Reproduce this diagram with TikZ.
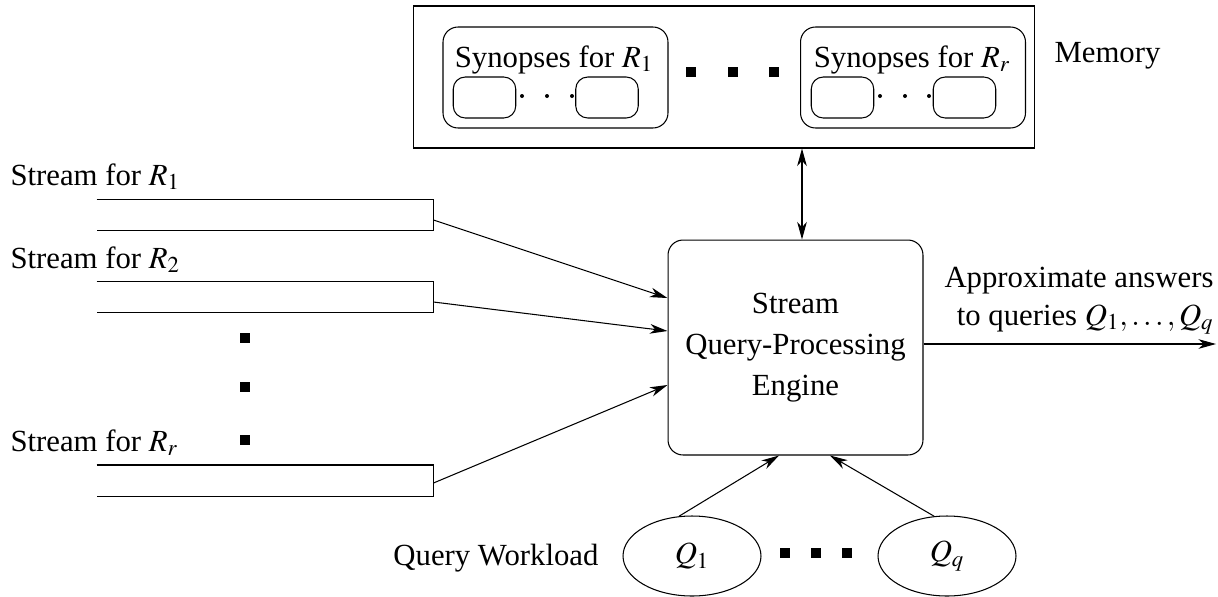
\documentclass[tikz,border=0pt]{standalone}
\usepackage{mathptmx}
\usepackage{fontspec}
\setmainfont{Liberation Serif}
\usepackage{tikz}
\usetikzlibrary{positioning,shapes.geometric,arrows.meta}

\begin{document}
\begin{tikzpicture}[
    x=0.02cm, y=-0.02cm,
    line width=0.6pt,
    font=\fontsize{17.5}{23.5}\selectfont,
    >={Stealth[length=10pt,width=5.5pt,inset=3pt]},
    membox/.style={rectangle, draw, minimum width=12.44cm, minimum height=2.84cm, inner sep=0},
    synbox/.style={rectangle, draw, rounded corners=0.3cm, minimum width=4.5cm, minimum height=2.02cm, inner sep=0},
    cellbox/.style={rectangle, draw, rounded corners=0.24cm, minimum width=1.25cm, minimum height=0.82cm, inner sep=0},
    engine/.style={rectangle, draw, rounded corners=0.3cm, minimum width=5.1cm, minimum height=4.3cm, align=center},
    stream/.style={rectangle, minimum width=6.72cm, minimum height=0.6cm, inner sep=0},
    query/.style={ellipse, draw, minimum width=2.76cm, minimum height=1.6cm, inner sep=0},
    blob/.style={rectangle, fill, minimum size=0.21cm, inner sep=0},
    dot/.style={circle, fill, minimum size=0.08cm, inner sep=0},
    tag/.style={inner sep=0}
]
\useasboundingbox (0,0) rectangle (1218,596);

% memory with the synopses
\node[membox] (mem) at (724,77) {};
\node[synbox] (syn1) at (555.5,77.5) {};
\node[synbox] (synr) at (913,77.5) {};
\node[tag, anchor=base] (syn1txt) at (554,67) {Synopses for $R_1$};
\node[tag, anchor=base] (synrtxt) at (912,67) {Synopses for $R_r$};
\node[cellbox] (c11) at (484.5,97.5) {};
\node[cellbox] (c12) at (607,97.5) {};
\node[cellbox] (cr1) at (842.5,97.5) {};
\node[cellbox] (cr2) at (964.5,97.5) {};
\foreach \x in {522,547,572,880,905,929}
    \node[dot] at (\x,96) {};
\foreach \x in {691,733,774}
    \node[blob] at (\x,72) {};
\node[tag, anchor=base west] (memtxt) at (1054,62) {Memory};

% streams
\node[tag, anchor=base west] (l1) at (10,185) {Stream for $R_1$};
\node[tag, anchor=base west] (l2) at (10,268) {Stream for $R_2$};
\node[tag, anchor=base west] (lr) at (10,451) {Stream for $R_r$};
\node[stream] (s1) at (265,215) {};
\node[stream] (s2) at (265,297) {};
\node[stream] (sr) at (265,480.5) {};
\foreach \s in {s1,s2,sr}
    \draw (\s.north west) -- (\s.north east) -- (\s.south east) -- (\s.south west);
\foreach \y in {338,387,440}
    \node[blob] at (245,\y) {};

% engine
\node[engine] (engine) at (795.5,347.5) {Stream\\Query-Processing\\Engine};

\draw[->] ([yshift=-0.1cm]s1.east) -- ([yshift=0.99cm]engine.west);
\draw[->] ([yshift=-0.1cm]s2.east) -- ([yshift=0.33cm]engine.west);
\draw[->] ([yshift=-0.05cm]sr.east) -- ([yshift=-0.75cm]engine.west);
\draw[<->] ([xshift=0.13cm]engine.north) -- ([xshift=0.13cm]engine.north |- mem.south);

% answers
\coordinate (out) at (1216,344);
\draw[->] (engine.east |- out) -- (out);
\node[tag, anchor=base east, align=right, font=\fontsize{17.5}{21.5}\selectfont] (ans) at (1214,325)
    {Approximate answers\\to queries $Q_1,\ldots,Q_q$};

% query workload
\node[query] (q1) at (692,556) {$Q_1$};
\node[query] (qq) at (947,556) {$Q_q$};
\foreach \x in {785,816,847}
    \node[blob] at (\x,553) {};
\node[tag, anchor=base east] (work) at (599,565) {Query Workload};
\draw[->] (q1.108) -- ([xshift=-0.33cm]engine.south);
\draw[->] (qq.108) -- ([xshift=0.69cm]engine.south);

\end{tikzpicture}
\end{document}
